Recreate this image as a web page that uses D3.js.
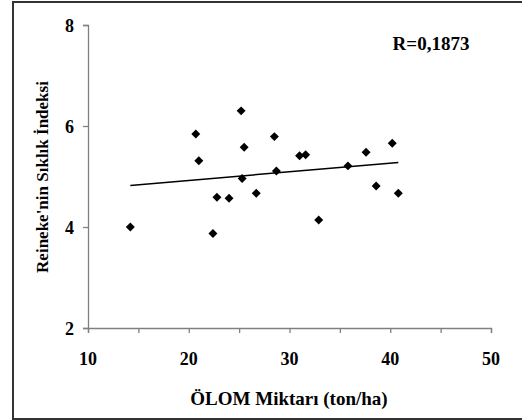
<!DOCTYPE html>
<html>
<head>
<meta charset="utf-8">
<script src="https://cdn.jsdelivr.net/npm/d3@7"></script>
<style>
  body { margin: 0; background: #fff; }
</style>
</head>
<body>
<svg id="chart" width="522" height="420"></svg>
<script>
// olom miktari (ton/ha) vs reineke sıklık indeksi
var olom = [14.2, 20.7, 21.0, 22.4, 22.8, 24.0, 25.2, 25.3, 25.5, 26.7,
            28.5, 28.7, 31.0, 31.6, 32.9, 35.8, 37.6, 38.6, 40.2, 40.8];
var sdi  = [4.00, 5.84, 5.31, 3.87, 4.59, 4.57, 6.30, 4.96, 5.58, 4.67,
            5.79, 5.11, 5.41, 5.43, 4.14, 5.21, 5.48, 4.81, 5.66, 4.67];
var xTicks = [10, 20, 30, 40, 50];
var yTicks = [2, 4, 6, 8];
var rLabel = "R=0,1873";

var serif = "'Liberation Serif', 'Times New Roman', 'DejaVu Serif', serif";
var svg = d3.select("#chart");

svg.append("rect")
    .attr("x", 13).attr("y", 2)
    .attr("width", 520).attr("height", 417)
    .attr("fill", "none")
    .attr("stroke", "#333")
    .attr("stroke-width", 2);

var x = d3.scaleLinear().domain([10, 50]).range([88, 491]);
var y = d3.scaleLinear().domain([2, 8]).range([328, 25]);

// axes
var xAxis = svg.append("g")
    .attr("transform", "translate(0," + y(2) + ")")
    .call(d3.axisBottom(x).tickValues(d3.range(10, 51, 5)).tickSize(5).tickFormat(""));
var yAxis = svg.append("g")
    .attr("transform", "translate(" + x(10) + ",0)")
    .call(d3.axisLeft(y).tickValues(yTicks).tickSize(5).tickFormat(""));
[xAxis, yAxis].forEach(function (a) {
    a.select(".domain").attr("stroke", "#808080").attr("stroke-width", 1.3);
    a.selectAll(".tick line").attr("stroke", "#808080").attr("stroke-width", 1.3);
});

function label(sel, size) {
    return sel.style("font-family", serif)
        .style("font-weight", "bold")
        .style("font-size", size + "px")
        .attr("fill", "#000");
}

label(svg.selectAll(".xlab")
    .data(xTicks)
    .enter().append("text")
    .attr("class", "xlab")
    .attr("x", function (d) { return x(d); })
    .attr("y", 365)
    .attr("text-anchor", "middle")
    .text(function (d) { return d; }), 18);

label(svg.selectAll(".ylab")
    .data(yTicks)
    .enter().append("text")
    .attr("class", "ylab")
    .attr("x", 74)
    .attr("y", function (d) { return y(d) + 7; })
    .attr("text-anchor", "end")
    .text(function (d) { return d; }), 18);

// trend line (least squares)
var mx = d3.mean(olom), my = d3.mean(sdi);
var sxy = d3.sum(olom, function (v, i) { return (v - mx) * (sdi[i] - my); });
var sxx = d3.sum(olom, function (v) { return (v - mx) * (v - mx); });
var b = sxy / sxx, a0 = my - b * mx;
var x0 = d3.min(olom), x1 = d3.max(olom);
svg.append("line")
    .attr("x1", x(x0)).attr("y1", y(a0 + b * x0))
    .attr("x2", x(x1)).attr("y2", y(a0 + b * x1))
    .attr("stroke", "#000")
    .attr("stroke-width", 1.5);

svg.selectAll(".pt")
    .data(olom)
    .enter().append("path")
    .attr("class", "pt")
    .attr("d", d3.symbol().type(d3.symbolSquare).size(40))
    .attr("transform", function (d, i) {
        return "translate(" + x(d) + "," + y(sdi[i]) + ") rotate(45)";
    })
    .attr("fill", "#000");

label(svg.append("text")
    .attr("x", 431).attr("y", 50)
    .attr("text-anchor", "middle")
    .text(rLabel), 19);

label(svg.append("text")
    .attr("x", 289).attr("y", 405)
    .attr("text-anchor", "middle")
    .text("ÖLOM Miktarı (ton/ha)"), 19);

label(svg.append("text")
    .attr("transform", "translate(48,177) rotate(-90)")
    .attr("text-anchor", "middle")
    .text("Reineke'nin Sıklık İndeksi"), 17);
</script>
</body>
</html>
